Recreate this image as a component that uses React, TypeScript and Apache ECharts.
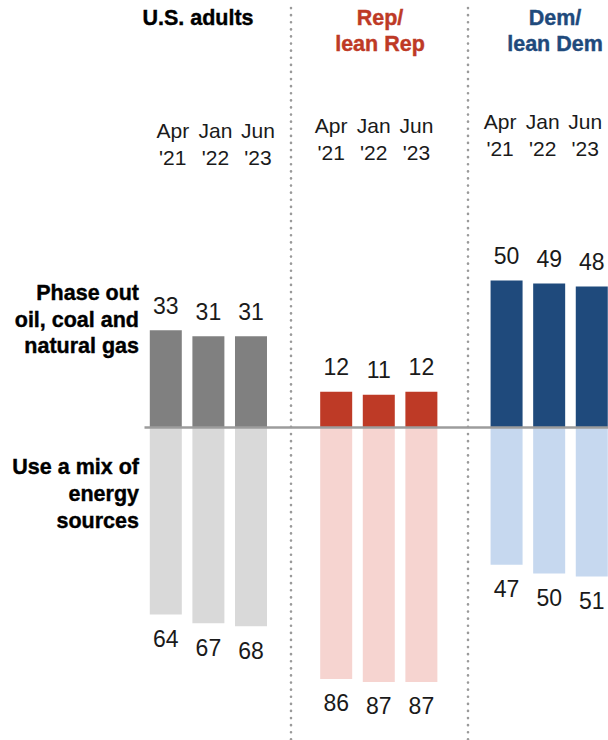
import React, { useEffect, useRef } from "react";
import * as echarts from "echarts";

const periods = ["Apr\n'21", "Jan\n'22", "Jun\n'23"];
const groupTitles = ["U.S. adults", "Rep/\nlean Rep", "Dem/\nlean Dem"];
const rowLabels = ["Phase out\noil, coal and\nnatural gas", "Use a mix of\nenergy\nsources"];

const phaseOutUS = [33, 31, 31];
const phaseOutRep = [12, 11, 12];
const phaseOutDem = [50, 49, 48];
const mixUS = [64, 67, 68];
const mixRep = [86, 87, 87];
const mixDem = [47, 50, 51];

const darkColors = ["#808080", "#be3a26", "#1f4a7c"];
const lightColors = ["#d9d9d9", "#f6d4d0", "#c6d8ef"];

const FONT = "'Liberation Sans', Arial, sans-serif";

export default function App() {
  const ref = useRef<HTMLDivElement>(null);
  useEffect(() => {
    if (!ref.current) return;
    const chart = echarts.init(ref.current, null, { renderer: "svg" });

    const phaseGroups = [phaseOutUS, phaseOutRep, phaseOutDem];
    const mixGroups = [mixUS, mixRep, mixDem];
    // 11 slots: 3 bars, gap, 3 bars, gap, 3 bars
    const slots: { g: number; p: number }[] = [];
    for (let g = 0; g < 3; g++) {
      for (let p = 0; p < 3; p++) slots.push({ g, p });
      if (g < 2) slots.push({ g: -1, p: -1 });
    }
    const cats = slots.map((_, i) => "c" + i);
    const topData = slots.map((s) =>
      s.g < 0 ? "-" : { value: phaseGroups[s.g][s.p], itemStyle: { color: darkColors[s.g] } }
    );
    const botData = slots.map((s) =>
      s.g < 0 ? "-" : { value: -mixGroups[s.g][s.p], itemStyle: { color: lightColors[s.g] } }
    );

    const axisFor = (g: number, offset: number, padding: number[]) => ({
      type: "category",
      data: cats,
      position: "top",
      offset,
      axisLine: { show: false },
      axisTick: { show: false },
      axisLabel: {
        interval: 0,
        margin: 7,
        fontFamily: FONT,
        fontSize: 21,
        lineHeight: 27,
        color: "#1a1a1a",
        padding,
        formatter: (_v: string, i: number) => (slots[i].g === g ? periods[slots[i].p] : ""),
      },
    });

    const labelStyle = {
      show: true,
      fontFamily: FONT,
      fontSize: 23,
      color: "#1a1a1a",
    };

    const boldText = (x: number, y: number, text: string, fill: string, align: string, lh: number) => ({
      type: "text",
      x,
      y,
      style: {
        text,
        font: `bold 21.5px ${FONT}`,
        fill,
        stroke: fill,
        lineWidth: 0.4,
        textAlign: align,
        textVerticalAlign: "top",
        lineHeight: lh,
      },
    });

    chart.setOption({
      animation: false,
      grid: { left: 144.5, right: 0.5, top: 178, bottom: 20, containLabel: false },
      xAxis: [
        axisFor(0, 0, [0, 0, 0, 14]),
        axisFor(1, 5, [0, 10, 0, 0]),
        axisFor(2, 9, [0, 13, 0, 0]),
      ],
      yAxis: {
        type: "value",
        min: -100,
        max: 85,
        show: false,
        splitLine: { show: false },
      },
      series: [
        {
          type: "bar",
          name: "Phase out",
          data: topData,
          barWidth: 32,
          barGap: "-100%",
          label: { ...labelStyle, position: "top", distance: 13 },
        },
        {
          type: "bar",
          name: "Mix",
          data: botData,
          barWidth: 32,
          barGap: "-100%",
          label: {
            ...labelStyle,
            position: "bottom",
            distance: 13,
            formatter: (p: any) => String(Math.abs(p.value)),
          },
          markLine: {
            silent: true,
            symbol: "none",
            label: { show: false },
            lineStyle: { color: "#9c9c9c", width: 2.5, type: "solid" },
            data: [{ yAxis: 0 }],
            z: 10,
          },
        },
      ],
      graphic: [
        {
          type: "line",
          shape: { x1: 291, y1: 8, x2: 291, y2: 740 },
          style: { stroke: "#9a9a9a", lineWidth: 2.6, lineDash: [0.1, 7], lineCap: "round" },
          z: 5,
        },
        {
          type: "line",
          shape: { x1: 468, y1: 8, x2: 468, y2: 740 },
          style: { stroke: "#9a9a9a", lineWidth: 2.6, lineDash: [0.1, 7], lineCap: "round" },
          z: 5,
        },
        boldText(198, 5, groupTitles[0], "#000000", "center", 26),
        boldText(380, 5, groupTitles[1], "#be3a26", "center", 26),
        boldText(555, 5, groupTitles[2], "#1f4a7c", "center", 26),
        boldText(139, 280, rowLabels[0], "#000000", "right", 26.5),
        boldText(139, 453, rowLabels[1], "#000000", "right", 27),
      ],
    });
    return () => chart.dispose();
  }, []);

  return (
    <div
      style={{
        position: "fixed",
        left: 0,
        top: 0,
        width: 608,
        height: 740,
        overflow: "hidden",
        background: "#ffffff",
      }}
    >
      <div ref={ref} style={{ width: 618, height: 740 }} />
    </div>
  );
}
